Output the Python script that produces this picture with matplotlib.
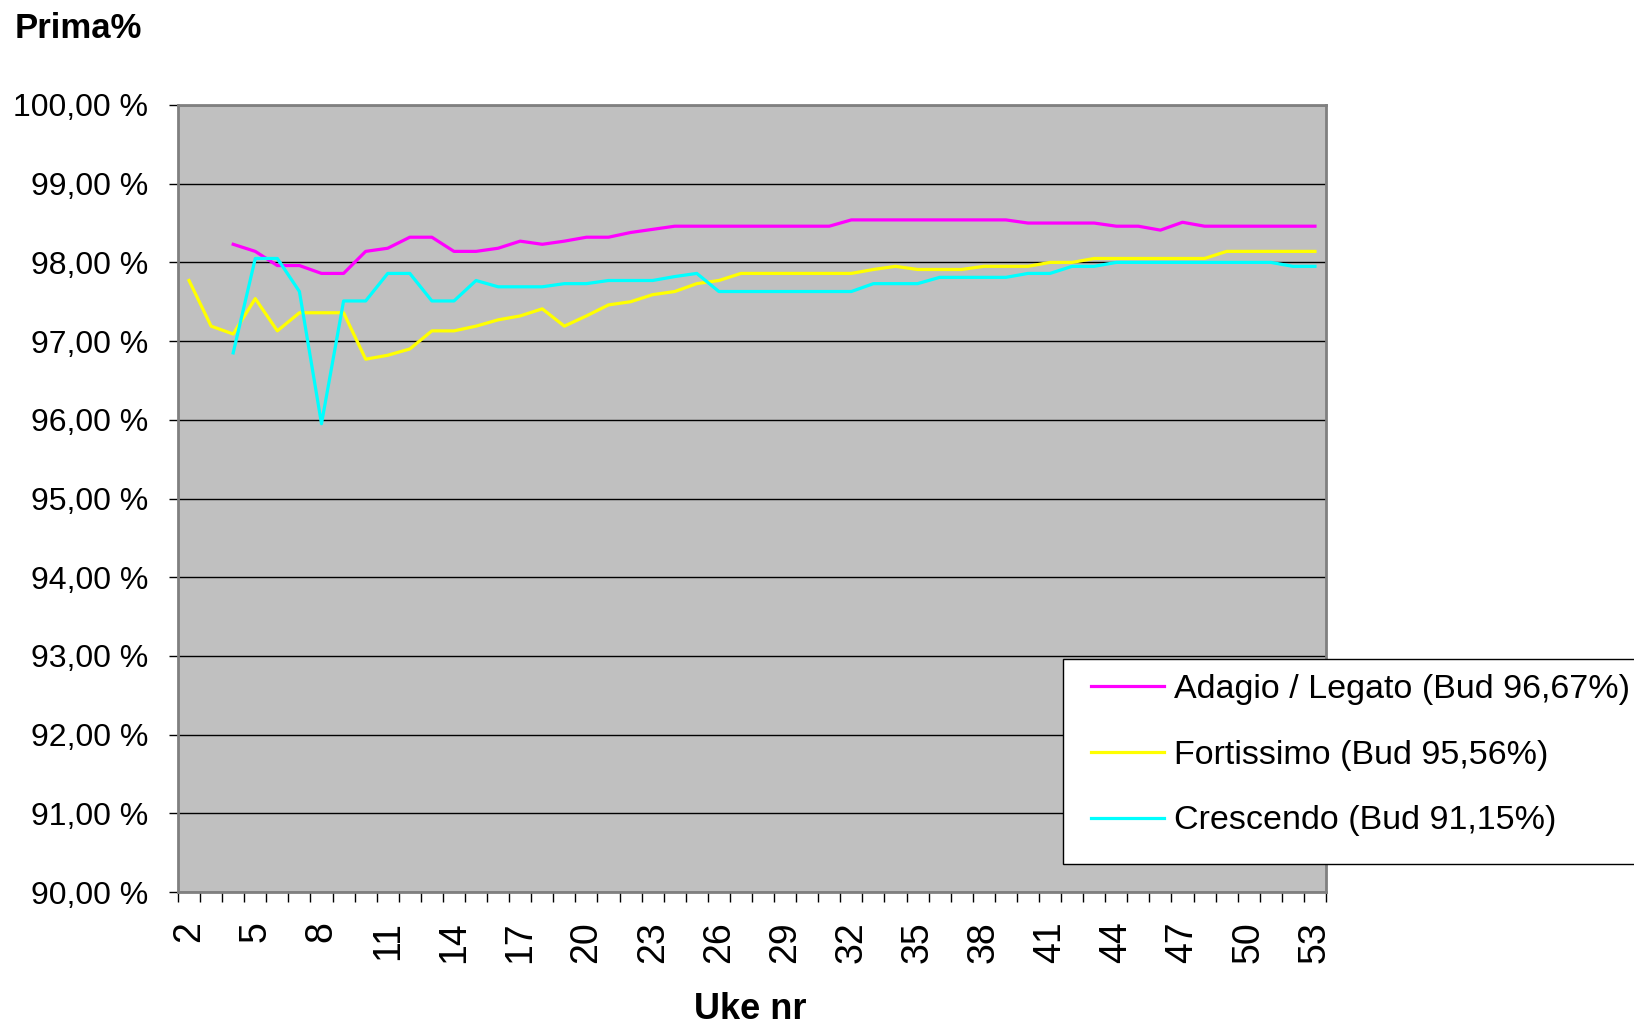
import numpy as np
import matplotlib
matplotlib.use('Agg')
import matplotlib.pyplot as plt
from matplotlib.patches import Rectangle
from matplotlib.ticker import FixedLocator, FuncFormatter

plt.rcParams['font.family'] = ['Liberation Sans', 'DejaVu Sans']

# --- DATA ---
weeks = list(range(2, 54))

# Fortissimo (yellow), weeks 2..53
fortissimo = [97.77, 97.19, 97.09, 97.54, 97.13, 97.36, 97.36, 97.36, 96.77, 96.82,
              96.90, 97.13, 97.13, 97.19, 97.27, 97.32, 97.41, 97.19, 97.32, 97.46,
              97.50, 97.59, 97.63, 97.73, 97.77, 97.86, 97.86, 97.86, 97.86, 97.86,
              97.86, 97.91, 97.95, 97.91, 97.91, 97.91, 97.95, 97.95, 97.95, 98.00,
              98.00, 98.05, 98.05, 98.05, 98.05, 98.05, 98.05, 98.14, 98.14, 98.14,
              98.14, 98.14]

# Adagio / Legato (magenta), weeks 2..53 (no data weeks 2-3)
adagio = [np.nan, np.nan, 98.23, 98.14, 97.96, 97.96, 97.86, 97.86, 98.14, 98.18,
          98.32, 98.32, 98.14, 98.14, 98.18, 98.27, 98.23, 98.27, 98.32, 98.32,
          98.38, 98.42, 98.46, 98.46, 98.46, 98.46, 98.46, 98.46, 98.46, 98.46,
          98.54, 98.54, 98.54, 98.54, 98.54, 98.54, 98.54, 98.54, 98.50, 98.50,
          98.50, 98.50, 98.46, 98.46, 98.41, 98.51, 98.46, 98.46, 98.46, 98.46,
          98.46, 98.46]

# Crescendo (cyan), weeks 2..53 (no data weeks 2-3)
crescendo = [np.nan, np.nan, 96.85, 98.05, 98.05, 97.63, 95.95, 97.51, 97.51, 97.86,
             97.86, 97.51, 97.51, 97.77, 97.69, 97.69, 97.69, 97.73, 97.73, 97.77,
             97.77, 97.77, 97.82, 97.86, 97.63, 97.63, 97.63, 97.63, 97.63, 97.63,
             97.63, 97.73, 97.73, 97.73, 97.81, 97.81, 97.81, 97.81, 97.86, 97.86,
             97.95, 97.95, 98.00, 98.00, 98.00, 98.00, 98.00, 98.00, 98.00, 98.00,
             97.95, 97.95]

labels = ['Adagio / Legato (Bud 96,67%)', 'Fortissimo (Bud 95,56%)', 'Crescendo (Bud 91,15%)']
colors = ['#FF00FF', '#FFFF00', '#00FFFF']

# --- FIGURE ---
W, H = 1634, 1025
fig = plt.figure(figsize=(W / 100, H / 100), dpi=100)
ax = fig.add_axes([178 / W, 1 - 892 / H, (1326 - 178) / W, (892 - 105) / H])
ax.set_facecolor('#C0C0C0')

for series, lab, col in zip([adagio, fortissimo, crescendo], labels, colors):
    ax.plot(weeks, series, color=col, linewidth=2.3, label=lab, zorder=3)

ax.set_xlim(weeks[0] - 0.5, weeks[-1] + 0.5)
ax.set_ylim(90, 100)

# y axis
ax.set_yticks(np.arange(90, 101, 1))
ax.yaxis.set_major_formatter(FuncFormatter(lambda v, p: f'{v:.2f} %'.replace('.', ',')))
ax.grid(axis='y', color='black', linewidth=1.0, zorder=1)
ax.tick_params(axis='y', direction='out', length=6.5, width=1, color='black',
               pad=15, labelsize=23)

# x axis: tick marks between categories, labels every 3rd week
ax.set_xticks(weeks[::3])
ax.set_xticklabels([str(w) for w in weeks[::3]], rotation=90, va='top', ha='center')
ax.xaxis.set_minor_locator(FixedLocator(np.arange(weeks[0] - 0.5, weeks[-1] + 1, 1)))
ax.tick_params(axis='x', which='major', length=0, pad=21, labelsize=27)
ax.tick_params(axis='x', which='minor', direction='out', length=7.5, width=1, color='black')

for s in ax.spines.values():
    s.set_color('#808080')
    s.set_linewidth(2)

# titles
fig.text(15 / W, 1 - 38 / H, 'Prima%', fontsize=25, fontweight='bold', ha='left', va='baseline')
fig.text(750 / W, 1 - 1019 / H, 'Uke nr', fontsize=26, fontweight='bold',
         ha='center', va='baseline')

# legend: white box running off the right edge, entries placed inside
box = Rectangle((1063 / W, 1 - 864 / H), 700 / W, (864 - 659) / H, transform=fig.transFigure,
                facecolor='white', edgecolor='black', linewidth=1.0, zorder=5, clip_on=False)
fig.add_artist(box)
leg = fig.legend(loc='upper left', bbox_to_anchor=(1091 / W, 1 - 674 / H),
                 bbox_transform=fig.transFigure, fontsize=24.5,
                 frameon=False, borderaxespad=0, borderpad=0,
                 handlelength=2.15, handletextpad=0.3, labelspacing=1.02)
leg.set_zorder(6)
for line in leg.get_lines():
    line.set_linewidth(2.3)

fig.savefig('out.png', dpi=100, facecolor='white')
